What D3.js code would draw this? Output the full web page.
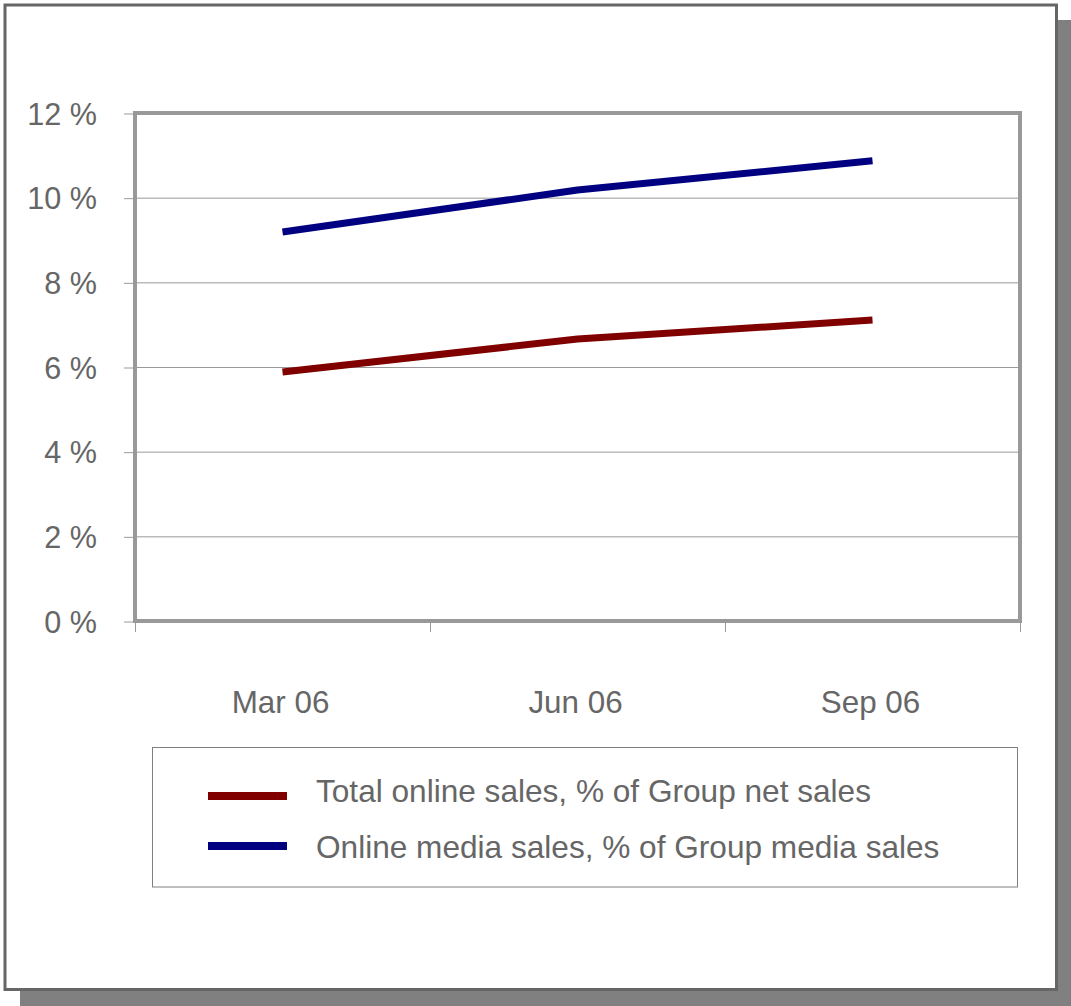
<!DOCTYPE html>
<html>
<head>
<meta charset="utf-8">
<script src="https://cdn.jsdelivr.net/npm/d3@7"></script>
<style>
html,body{margin:0;padding:0;background:#fff;}
svg{display:block;}
text{font-family:"Liberation Sans",Arial,sans-serif;fill:#666;}
</style>
</head>
<body>
<svg id="c" width="1071" height="1006"></svg>
<script>
const categories = ["Mar 06", "Jun 06", "Sep 06"];
const seriesNames = ["Total online sales, % of Group net sales", "Online media sales, % of Group media sales"];
const totalOnline = [5.88, 6.66, 7.11];
const onlineMedia = [9.19, 10.18, 10.87];
const yTicks = [0, 2, 4, 6, 8, 10, 12];
const colors = ["#800000", "#000080"];

const svg = d3.select("#c");

// shadow + frame
svg.append("rect").attr("x", 20).attr("y", 20).attr("width", 1060).attr("height", 1000).attr("fill", "#808080");
svg.append("rect").attr("x", 5).attr("y", 5).attr("width", 1051.5).attr("height", 984.5)
  .attr("fill", "#fff").attr("stroke", "#666").attr("stroke-width", 3);

const L = 135, R = 1020, T = 113, B = 621;
const x = d3.scaleBand().domain(categories).range([L, R]);
const y = d3.scaleLinear().domain([0, 12]).range([B, T]);

// gridlines
svg.append("g").selectAll("line").data(yTicks.filter(d => d > 0 && d < 12)).join("line")
  .attr("x1", L).attr("x2", R).attr("y1", d => y(d) + 0.5).attr("y2", d => y(d) + 0.5)
  .attr("stroke", "#999").attr("stroke-width", 1);

// y axis
const yAxis = d3.axisLeft(y).tickValues(yTicks).tickSize(11).tickPadding(27).tickFormat(d => d + " %");
const gy = svg.append("g").attr("transform", `translate(${L},0.5)`).call(yAxis);
gy.select(".domain").remove();
gy.selectAll(".tick line").attr("stroke", "#999");
gy.selectAll(".tick text").attr("font-size", 30.6).attr("fill", "#666").attr("dy", "0.35em")
  .attr("font-family", '"Liberation Sans",Arial,sans-serif');

// x axis
const xAxis = d3.axisBottom(x).tickSize(0).tickPadding(0);
const gx = svg.append("g").attr("transform", `translate(-2,${B})`).call(xAxis);
gx.select(".domain").remove();
gx.selectAll(".tick line").remove();
gx.selectAll(".tick text").attr("font-size", 31.4).attr("fill", "#666").attr("y", 92).attr("dy", 0)
  .attr("font-family", '"Liberation Sans",Arial,sans-serif');
// x boundary ticks
const bounds = categories.map(c => x(c)).concat([R]);
svg.append("g").selectAll("line").data(bounds).join("line")
  .attr("x1", d => d + 0.5).attr("x2", d => d + 0.5).attr("y1", B).attr("y2", B + 11)
  .attr("stroke", "#999").attr("stroke-width", 1);

// plot border
svg.append("rect").attr("x", L).attr("y", T).attr("width", R - L).attr("height", B - T)
  .attr("fill", "none").attr("stroke", "#999").attr("stroke-width", 4);

// lines
const line = d3.line().x((d, i) => x(categories[i]) + x.bandwidth() / 2).y(d => y(d));
[totalOnline, onlineMedia].forEach((s, i) => {
  svg.append("path").datum(s).attr("d", line).attr("fill", "none")
    .attr("stroke", colors[i]).attr("stroke-width", 7).attr("stroke-linejoin", "round");
});

// legend
svg.append("rect").attr("x", 152.5).attr("y", 747.5).attr("width", 865).attr("height", 139.5)
  .attr("fill", "#fff").attr("stroke", "#808080").attr("stroke-width", 1);
const ly = [796, 846];
const ty = [802, 858];
seriesNames.forEach((n, i) => {
  svg.append("line").attr("x1", 208).attr("x2", 287).attr("y1", ly[i]).attr("y2", ly[i])
    .attr("stroke", colors[i]).attr("stroke-width", 8);
  svg.append("text").attr("x", 316).attr("y", ty[i]).attr("font-size", 31.6)
    .text(n);
});
</script>
</body>
</html>
